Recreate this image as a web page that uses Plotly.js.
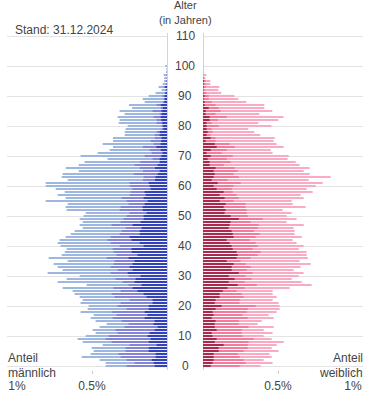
<!DOCTYPE html>
<html>
<head>
<meta charset="utf-8">
<script src="https://cdn.plot.ly/plotly-3.0.1.min.js"></script>
<style>html,body{margin:0;padding:0;background:#fff;}#chart{width:375px;height:416px;}</style>
</head>
<body>
<div id="chart"></div>
<script>
// Ages 0..100
const ages = Array.from({length: 101}, (_, i) => i);

// Male (Anteil in %), cumulative edges
const maleTotal = [0.409,0.409,0.449,0.569,0.509,0.489,0.502,0.429,0.562,0.596,
0.542,0.476,0.496,0.449,0.402,0.476,0.509,0.489,0.576,0.529,
0.522,0.576,0.562,0.582,0.616,0.629,0.696,0.536,0.729,0.669,
0.582,0.796,0.696,0.729,0.756,0.662,0.789,0.702,0.682,0.669,
0.709,0.729,0.716,0.676,0.642,0.616,0.562,0.582,0.562,0.582,
0.556,0.542,0.669,0.676,0.662,0.809,0.676,0.729,0.682,0.742,
0.809,0.809,0.662,0.702,0.696,0.589,0.676,0.589,0.549,0.396,
0.576,0.462,0.382,0.360,0.429,0.360,0.360,0.282,0.282,0.276,
0.262,0.322,0.316,0.329,0.282,0.316,0.233,0.253,0.149,0.162,
0.122,0.076,0.036,0.056,0.029,0.020,0.018,0.022,0.006,0.004,0.011];

const maleMid = [0.269,0.216,0.269,0.309,0.322,0.276,0.276,0.249,0.369,0.409,
0.389,0.329,0.342,0.282,0.256,0.302,0.362,0.336,0.369,0.269,
0.329,0.309,0.249,0.349,0.369,0.309,0.356,0.256,0.296,0.342,
0.256,0.376,0.329,0.376,0.356,0.349,0.402,0.336,0.356,0.362,
0.316,0.376,0.396,0.376,0.316,0.302,0.276,0.369,0.309,0.289,
0.269,0.249,0.316,0.309,0.256,0.269,0.302,0.249,0.242,0.231,
0.249,0.249,0.160,0.156,0.222,0.160,0.182,0.216,0.178,0.096,
0.149,0.102,0.116,0.160,0.089,0.109,0.082,0.082,0.069,0.036,
0.036,0.069,0.069,0.089,0.049,0.096,0.042,0.069,0.027,0.022,
0.031,0.016,0.009,0.022,0.004,0.004,0.002,0.004,0.002,0,0];

const maleDark = [0.082,0.089,0.102,0.076,0.076,0.122,0.122,0.069,0.122,0.109,
0.129,0.116,0.082,0.062,0.089,0.082,0.149,0.129,0.149,0.122,
0.122,0.096,0.096,0.136,0.156,0.196,0.229,0.169,0.216,0.209,
0.176,0.262,0.229,0.249,0.229,0.216,0.256,0.196,0.236,0.236,
0.156,0.182,0.236,0.249,0.182,0.182,0.169,0.229,0.176,0.156,
0.156,0.136,0.162,0.162,0.149,0.129,0.156,0.142,0.149,0.109,
0.116,0.122,0.080,0.076,0.062,0.049,0.080,0.062,0.049,0.049,
0.038,0.029,0.042,0.071,0.042,0.038,0.036,0.049,0.049,0.024,
0.027,0.031,0.038,0.042,0.036,0.036,0.027,0.042,0.018,0.016,
0.016,0.011,0.004,0.013,0.002,0.002,0,0,0,0,0];

// Female (Anteil in %)
const femaleTotal = [0.384,0.464,0.404,0.458,0.444,0.504,0.458,0.491,0.538,0.458,
0.404,0.464,0.404,0.471,0.364,0.391,0.471,0.438,0.491,0.511,
0.511,0.504,0.464,0.491,0.464,0.464,0.578,0.724,0.658,0.591,
0.638,0.671,0.604,0.651,0.718,0.644,0.698,0.691,0.691,0.638,
0.671,0.624,0.598,0.658,0.611,0.611,0.604,0.671,0.558,0.624,
0.558,0.591,0.531,0.684,0.598,0.591,0.671,0.651,0.731,0.691,
0.751,0.798,0.704,0.851,0.711,0.671,0.711,0.644,0.618,0.564,
0.571,0.464,0.451,0.538,0.491,0.471,0.478,0.382,0.342,0.302,
0.456,0.369,0.502,0.536,0.376,0.462,0.409,0.409,0.289,0.236,
0.209,0.122,0.102,0.109,0.049,0.049,0.016,0.022,0.004,0.002,0.004];

const femaleMid = [0.244,0.284,0.271,0.244,0.231,0.271,0.298,0.298,0.304,0.338,
0.264,0.258,0.258,0.304,0.238,0.238,0.298,0.264,0.291,0.298,
0.351,0.244,0.244,0.271,0.258,0.224,0.278,0.358,0.278,0.324,
0.284,0.331,0.291,0.318,0.284,0.251,0.318,0.364,0.384,0.331,
0.364,0.351,0.311,0.351,0.378,0.338,0.364,0.371,0.318,0.398,
0.298,0.291,0.291,0.284,0.284,0.204,0.238,0.224,0.198,0.191,
0.204,0.251,0.164,0.238,0.204,0.231,0.211,0.138,0.184,0.158,
0.198,0.124,0.158,0.211,0.178,0.084,0.084,0.051,0.064,0.058,
0.104,0.058,0.098,0.158,0.084,0.118,0.104,0.084,0.058,0.038,
0.038,0.024,0.013,0.018,0.018,0.016,0.004,0.004,0.002,0,0];

const femaleDark = [0.051,0.064,0.071,0.071,0.071,0.104,0.104,0.138,0.078,0.091,
0.064,0.058,0.091,0.078,0.078,0.084,0.058,0.071,0.064,0.084,
0.124,0.078,0.084,0.111,0.111,0.131,0.164,0.231,0.171,0.211,
0.171,0.238,0.191,0.191,0.204,0.158,0.224,0.231,0.224,0.198,
0.191,0.178,0.158,0.204,0.198,0.191,0.171,0.178,0.184,0.238,
0.184,0.144,0.151,0.138,0.151,0.111,0.144,0.111,0.138,0.091,
0.071,0.098,0.058,0.071,0.078,0.071,0.084,0.044,0.044,0.031,
0.051,0.024,0.051,0.091,0.078,0.018,0.051,0.024,0.031,0.024,
0.024,0.024,0.044,0.044,0.018,0.018,0.038,0.011,0.011,0.004,
0.011,0.004,0.002,0.004,0.004,0.007,0.002,0,0,0,0];

const ageTicks = [0,10,20,30,40,50,60,70,80,90,100,110];
const xTickVals = [0.5, 1];
const xTickText = ['0.5%', '1%'];

const colors = {
  mLight: '#9db7e1', mMid: '#8585d8', mDark: '#3342b9',
  fLight: '#f9abc3', fMid: '#f27c9b', fDark: '#a82b4f'
};

function bar(x, col, xa, ya) {
  return {type: 'bar', orientation: 'h', y: ages, x: x, xaxis: xa, yaxis: ya,
    marker: {color: col, line: {width: 0}}, hoverinfo: 'skip', showlegend: false};
}

const data = [
  bar(maleTotal, colors.mLight, 'x', 'y'),
  bar(maleMid, colors.mMid, 'x', 'y'),
  bar(maleDark, colors.mDark, 'x', 'y'),
  bar(femaleTotal, colors.fLight, 'x2', 'y2'),
  bar(femaleMid, colors.fMid, 'x2', 'y2'),
  bar(femaleDark, colors.fDark, 'x2', 'y2')
];

const font = {family: '"Liberation Sans", Arial, sans-serif', size: 12, color: '#444'};
const smallFont = {family: '"Liberation Sans", Arial, sans-serif', size: 11, color: '#444'};
const xMax = 1.0667;
const yRange = [-1.333, 111];

const xCommon = {
  tickvals: xTickVals, ticktext: xTickText, ticks: 'outside', ticklen: 3, tickcolor: '#c8c8c8',
  showgrid: false, zeroline: true, zerolinecolor: '#d4d4d4', zerolinewidth: 1, showline: false,
  tickfont: font, ticklabelstandoff: 2, fixedrange: true
};
const yCommon = {
  range: yRange, tickvals: ageTicks, showticklabels: false, showgrid: true,
  gridcolor: '#e3e3e3', gridwidth: 1, zeroline: false, showline: false, ticks: '', fixedrange: true
};

const annotations = ageTicks.map(a => ({
  x: 0.5, xref: 'paper', y: a, yref: 'y', text: String(a), showarrow: false,
  xanchor: 'center', yanchor: 'middle', font: font
}));
const P = (py) => (370 - py) / 337;
annotations.push(
  {x: 0.5, xref: 'paper', y: P(5), yref: 'paper', text: 'Alter', showarrow: false, xanchor: 'center', yanchor: 'middle', font: smallFont, borderpad: 0},
  {x: 0.5, xref: 'paper', y: P(19.5), yref: 'paper', text: '(in Jahren)', showarrow: false, xanchor: 'center', yanchor: 'middle', font: smallFont, borderpad: 0},
  {x: (13 - 7) / 356, xref: 'paper', y: P(30), yref: 'paper', text: 'Stand: 31.12.2024', showarrow: false, xanchor: 'left', yanchor: 'middle', font: font},
  {x: -1 / 356, xref: 'paper', y: P(358), yref: 'paper', text: 'Anteil', showarrow: false, xanchor: 'left', yanchor: 'middle', font: font},
  {x: -1 / 356, xref: 'paper', y: P(373), yref: 'paper', text: 'männlich', showarrow: false, xanchor: 'left', yanchor: 'middle', font: font},
  {x: 358 / 356, xref: 'paper', y: P(358), yref: 'paper', text: 'Anteil', showarrow: false, xanchor: 'right', yanchor: 'middle', font: font},
  {x: 358 / 356, xref: 'paper', y: P(373), yref: 'paper', text: 'weiblich', showarrow: false, xanchor: 'right', yanchor: 'middle', font: font}
);

const layout = {
  width: 375, height: 416,
  margin: {l: 7, r: 12, t: 33, b: 46, pad: 0},
  paper_bgcolor: '#fff', plot_bgcolor: '#fff',
  barmode: 'overlay', bargap: 0.3,
  font: font,
  xaxis: Object.assign({}, xCommon, {domain: [0, 160 / 356], range: [xMax, 0], anchor: 'y'}),
  xaxis2: Object.assign({}, xCommon, {domain: [196 / 356, 1], range: [0, xMax], anchor: 'y2'}),
  yaxis: Object.assign({}, yCommon, {anchor: 'x'}),
  yaxis2: Object.assign({}, yCommon, {anchor: 'x2'}),
  annotations: annotations
};

Plotly.newPlot('chart', data, layout, {displayModeBar: false, staticPlot: true});
</script>
</body>
</html>
